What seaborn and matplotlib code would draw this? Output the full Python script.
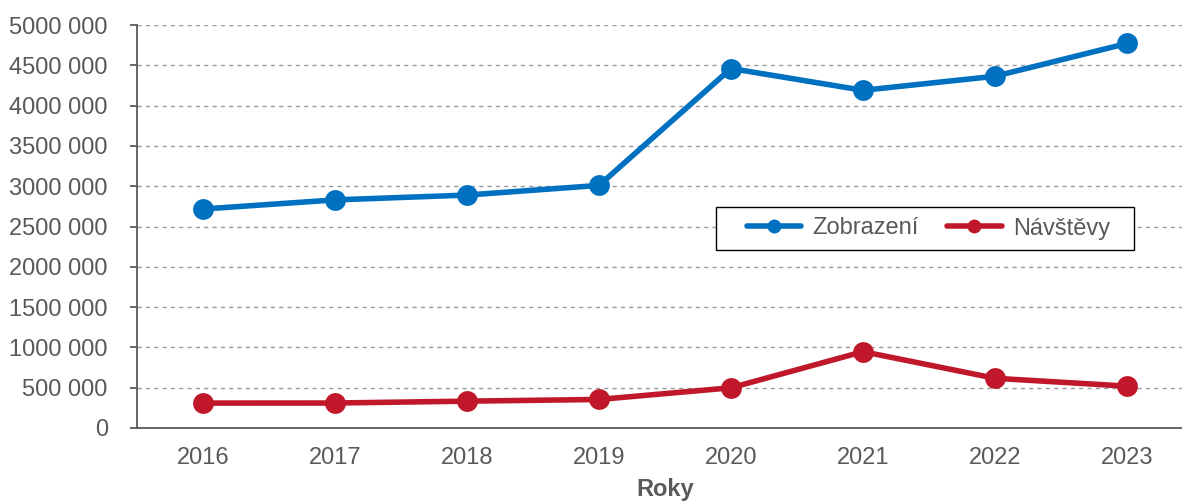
import pandas as pd
import matplotlib
matplotlib.use('Agg')
import matplotlib.pyplot as plt
import seaborn as sns
from matplotlib.patches import Rectangle
from matplotlib.ticker import FuncFormatter, MultipleLocator

years = [2016, 2017, 2018, 2019, 2020, 2021, 2022, 2023]
zobrazeni = [2717000, 2830000, 2890000, 3010000, 4460000, 4190000, 4364000, 4771000]
navstevy = [309000, 310000, 333000, 354000, 499000, 947000, 617000, 519000]
series_names = ['Zobrazení', 'Návštěvy']
colors = ['#0070C0', '#C0182A']

df = pd.DataFrame({'Rok': years * 2,
                   'Hodnota': zobrazeni + navstevy,
                   'Serie': [series_names[0]] * len(years) + [series_names[1]] * len(years)})

sns.set_style('white')
plt.rcParams['font.family'] = ['Liberation Sans', 'DejaVu Sans']
text_gray = '#595959'
fs = 17
W, H = 1182, 501


def cz_format(v, pos):
    # Excel-like "# ##0" but only the last group is separated
    v = int(round(v))
    if v < 1000:
        return str(v)
    return f'{v // 1000} {v % 1000:03d}'


fig = plt.figure(figsize=(W / 100, H / 100), dpi=100)
ax = fig.add_axes([137 / W, 1 - 428 / H, (1193 - 137) / W, (428 - 25) / H])

sns.lineplot(data=df, x='Rok', y='Hodnota', hue='Serie', palette=colors,
             marker='o', markersize=15, linewidth=4, markeredgewidth=0,
             ax=ax, legend=False)

ax.set_xlim(2015.5, 2023.5)
ax.set_ylim(0, 5000000)
ax.set_xticks(years)
ax.yaxis.set_major_locator(MultipleLocator(500000))
ax.yaxis.set_major_formatter(FuncFormatter(cz_format))
ax.yaxis.grid(True, linestyle=(0, (3, 3)), color='#9a9a9a', linewidth=1)
ax.set_axisbelow(True)

for s in ['top', 'right']:
    ax.spines[s].set_visible(False)
for s in ['left', 'bottom']:
    ax.spines[s].set_color(text_gray)
    ax.spines[s].set_linewidth(1.3)

ax.tick_params(axis='y', length=5, width=1.3, color=text_gray, labelsize=fs,
               labelcolor=text_gray, left=True, pad=16)
ax.tick_params(axis='x', length=0, labelsize=fs, labelcolor=text_gray, pad=14)
ax.set_ylabel('')
ax.set_xlabel('Roky', fontsize=fs, fontweight='bold', color=text_gray, labelpad=6)

# legend box drawn separately (wider side padding than matplotlib's borderpad)
fig.patches.append(Rectangle((716 / W, 1 - 250 / H), (1134 - 716) / W, 43 / H,
                             transform=fig.transFigure, facecolor='white',
                             edgecolor='black', linewidth=1, zorder=5))
handles = [plt.Line2D([], [], color=c, linewidth=4, marker='o', markersize=10,
                      markeredgewidth=0) for c in colors]
leg = fig.legend(handles, series_names, loc='center', ncol=2,
                 bbox_to_anchor=(928.5 / W, 1 - 228.5 / H),
                 fontsize=fs, frameon=False, handlelength=2.3,
                 handletextpad=0.5, columnspacing=1.2)
leg.set_zorder(6)
for t in leg.get_texts():
    t.set_color(text_gray)

fig.savefig('out.png', dpi=100)
